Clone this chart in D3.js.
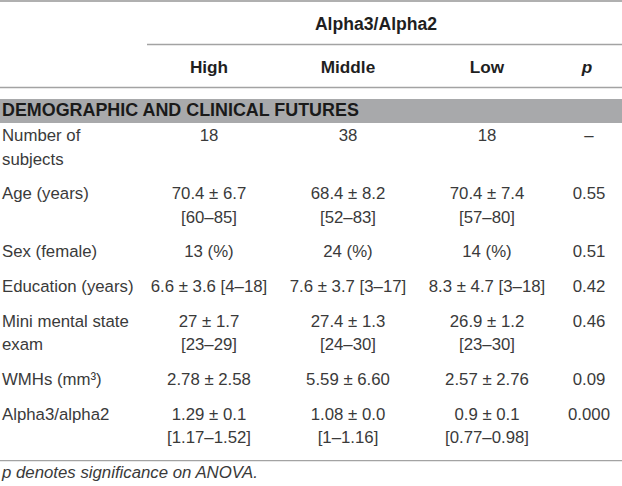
<!DOCTYPE html>
<html>
<head>
<meta charset="utf-8">
<script src="https://cdn.jsdelivr.net/npm/d3@7"></script>
<style>
  body { margin: 0; background: #fff; }
  text { font-family: "Liberation Sans", Arial, sans-serif; }
</style>
</head>
<body>
<div id="table"></div>
<script>

// Table content
const spanTitle = "Alpha3/Alpha2";
const groups = ["High", "Middle", "Low"];
const sectionTitle = "DEMOGRAPHIC AND CLINICAL FUTURES";
const rowLabels = [
  ["Number of", "subjects"],
  ["Age (years)"],
  ["Sex (female)"],
  ["Education (years)"],
  ["Mini mental state", "exam"],
  ["WMHs (mm³)"],
  ["Alpha3/alpha2"]
];
const highValues = [
  ["18"],
  ["70.4 ± 6.7", "[60–85]"],
  ["13 (%)"],
  ["6.6 ± 3.6 [4–18]"],
  ["27 ± 1.7", "[23–29]"],
  ["2.78 ± 2.58"],
  ["1.29 ± 0.1", "[1.17–1.52]"]
];
const middleValues = [
  ["38"],
  ["68.4 ± 8.2", "[52–83]"],
  ["24 (%)"],
  ["7.6 ± 3.7 [3–17]"],
  ["27.4 ± 1.3", "[24–30]"],
  ["5.59 ± 6.60"],
  ["1.08 ± 0.0", "[1–1.16]"]
];
const lowValues = [
  ["18"],
  ["70.4 ± 7.4", "[57–80]"],
  ["14 (%)"],
  ["8.3 ± 4.7 [3–18]"],
  ["26.9 ± 1.2", "[23–30]"],
  ["2.57 ± 2.76"],
  ["0.9 ± 0.1", "[0.77–0.98]"]
];
const pValues = ["–", "0.55", "0.51", "0.42", "0.46", "0.09", "0.000"];
const footnote = "p denotes significance on ANOVA.";

// Layout
const width = 622, height = 486;
const lineH = 23.5, rowGap = 34.7, firstBaseline = 141;
const fontSize = 16.8;
const textColor = "#3a3a3a";
const ruleColor = "#a3a3a3";

const svg = d3.select("#table")
  .append("svg")
    .attr("width", width)
    .attr("height", height);

svg.append("rect").attr("width", width).attr("height", height).attr("fill", "#fff");

// column positions
const x = d3.scalePoint()
  .domain(groups)
  .range([209, 487]);
const xP = 589;

// row baselines from the number of lines per row
const nLines = rowLabels.map((d, i) => Math.max(d.length, highValues[i].length, middleValues[i].length, lowValues[i].length));
const baselines = [];
nLines.reduce((y, n, i) => { baselines.push(y); return y + (n - 1) * lineH + rowGap; }, firstBaseline);
const y = d3.scaleOrdinal().domain(d3.range(rowLabels.length)).range(baselines);

// rules
svg.append("rect").attr("x", 0).attr("y", 0).attr("width", width).attr("height", 2).attr("fill", "#b0b0b0");
const rule = (x1, yy) => svg.append("line")
  .attr("x1", x1).attr("x2", width).attr("y1", yy).attr("y2", yy)
  .attr("stroke", ruleColor).attr("stroke-width", 1.3);
rule(147, 44.5);
rule(0, 87.5);

// header
svg.append("text")
  .attr("x", 376).attr("y", 30)
  .attr("text-anchor", "middle")
  .attr("font-size", 17.6).attr("font-weight", "bold").attr("fill", "#1f1f1f")
  .text(spanTitle);

svg.append("g").selectAll("text")
  .data(groups)
  .join("text")
    .attr("x", d => x(d)).attr("y", 73)
    .attr("text-anchor", "middle")
    .attr("font-size", 17.2).attr("font-weight", "bold").attr("fill", "#1f1f1f")
    .text(d => d);

svg.append("text")
  .attr("x", xP - 2).attr("y", 73)
  .attr("text-anchor", "middle")
  .attr("font-size", 17.2).attr("font-weight", "bold").attr("font-style", "italic").attr("fill", "#1f1f1f")
  .text("p");

// section band
svg.append("rect")
  .attr("x", 0).attr("y", 99).attr("width", width).attr("height", 24)
  .attr("fill", "#a8a9ab");
svg.append("text")
  .attr("x", 2).attr("y", 116)
  .attr("font-size", 17.9).attr("font-weight", "bold").attr("fill", "#1a1a1a")
  .text(sectionTitle);

// body rows
const body = svg.append("g")
  .attr("font-size", fontSize)
  .attr("fill", textColor);

const multiline = (sel, lines) => sel.selectAll("tspan")
  .data(lines)
  .join("tspan")
    .attr("x", function() { return this.parentNode.getAttribute("x"); })
    .attr("dy", (d, j) => j === 0 ? 0 : lineH)
    .text(d => d);

body.selectAll(".label")
  .data(rowLabels)
  .join("text")
    .attr("class", "label")
    .attr("x", 2)
    .attr("y", (d, i) => y(i))
    .each(function(d) { multiline(d3.select(this), d); });

const columns = [highValues, middleValues, lowValues];
groups.forEach((g, c) => {
  body.selectAll(".v" + c)
    .data(columns[c])
    .join("text")
      .attr("class", "v" + c)
      .attr("x", x(g))
      .attr("y", (d, i) => y(i))
      .attr("text-anchor", "middle")
      .each(function(d) { multiline(d3.select(this), d); });
});

body.selectAll(".pv")
  .data(pValues)
  .join("text")
    .attr("class", "pv")
    .attr("x", xP)
    .attr("y", (d, i) => y(i))
    .attr("text-anchor", "middle")
    .text(d => d);

// bottom rule and footnote
const lastRow = rowLabels.length - 1;
rule(0, y(lastRow) + (nLines[lastRow] - 1) * lineH + 17.5);

svg.append("text")
  .attr("x", 2).attr("y", 478)
  .attr("font-size", fontSize).attr("font-style", "italic").attr("fill", textColor)
  .text(footnote);

</script>
</body>
</html>
